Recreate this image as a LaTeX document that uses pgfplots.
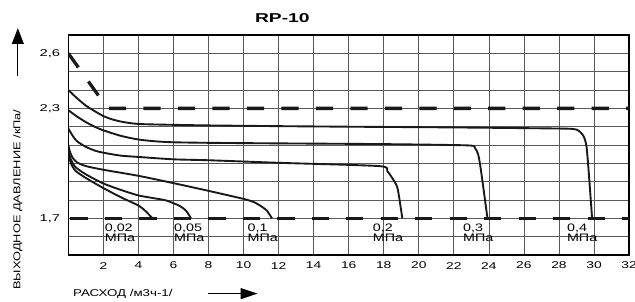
\documentclass[border=0pt]{standalone}
\usepackage{fontspec}
\setmainfont{Liberation Sans}
\usepackage{graphicx}
\usepackage{pgfplots}
\pgfplotsset{compat=1.18}
\usetikzlibrary{arrows.meta}
\newcommand{\sx}[2][1.4]{\scalebox{#1}[1]{#2}}
\begin{document}
\begin{tikzpicture}
\begin{axis}[
  scale only axis, width=566bp, height=222bp,
  xmin=0, xmax=32, ymin=1.5, ymax=2.7,
  xtick={0,2,4,6,8,10,12,14,16,18,20,22,24,26,28,30,32},
  xticklabels={,\sx{2},\sx{4},\sx{6},\sx{8},\sx{10},\sx{12},\sx{14},\sx{16},\sx{18},\sx{20},\sx{22},\sx{24},\sx{26},\sx{28},\sx{30},\makebox[0pt]{\sx{32}}},
  ytick={1.5,1.6,1.7,1.8,1.9,2.0,2.1,2.2,2.3,2.4,2.5,2.6,2.7},
  yticklabels={,,{\sx[1.5]{1,7}},,,,,,{\sx[1.5]{2,3}},,,{\sx[1.5]{2,6}},},
  grid=major,
  major grid style={draw=black!65, line width=0.7bp},
  axis line style={line width=1.7bp},
  tick style={draw=none},
  tick label style={font=\fontsize{10}{12}\selectfont},
  xticklabel style={anchor=center, yshift=-10.7bp},
  yticklabel style={anchor=east, inner sep=0pt, xshift=-8bp},
]
\coordinate (SW) at (rel axis cs:0,0);
% dashed limit lines
\addplot[line width=3.3bp, black!90, dash pattern=on 17.4bp off 17.4bp]
  coordinates {(0,2.6) (2.24,2.3) (32,2.3)};
\addplot[line width=3.3bp, black!90, dash pattern=on 17.4bp off 17.4bp, dash phase=32.7bp]
  coordinates {(0,1.7) (32,1.7)};
% 0.4 MPa
\addplot[line width=1.9bp, black!90, smooth, tension=0.4, line join=round] coordinates {
 (0,2.40) (0.5,2.355) (1,2.315) (1.5,2.285) (2,2.258) (2.5,2.24) (3,2.228) (3.5,2.22) (4,2.215)
 (5,2.212) (8,2.207) (12,2.203) (16,2.2) (22,2.196) (28,2.19) (28.85,2.187) (29.13,2.178)
 (29.41,2.147) (29.57,2.093) (29.7,1.95) (29.89,1.70)};
% 0.3 MPa
\addplot[line width=1.9bp, black!90, smooth, tension=0.4, line join=round] coordinates {
 (0,2.29) (0.5,2.255) (1,2.225) (1.5,2.2) (2,2.18) (3,2.15) (4,2.13) (5,2.12) (6,2.115)
 (8,2.112) (12,2.109) (18,2.105) (22.8,2.098) (23.2,2.084) (23.39,2.048) (23.54,1.967) (23.92,1.70)};
% 0.2 MPa
\addplot[line width=1.9bp, black!90, smooth, tension=0.4, line join=round] coordinates {
 (0,2.19) (0.25,2.15) (0.5,2.12) (1,2.09) (1.5,2.07) (2,2.058) (3,2.042) (4,2.035) (6,2.022)
 (8,2.017) (12,2.003) (17.74,1.985) (18.2,1.958) (18.59,1.904) (18.8,1.859) (19.06,1.70)};
% 0.1 MPa
\addplot[line width=1.9bp, black!90, smooth, tension=0.4, line join=round] coordinates {
 (0,2.1) (0.1,2.06) (0.25,2.03) (0.5,2.005) (1,1.985) (2,1.965) (4,1.932) (6,1.892) (8,1.85)
 (10,1.806) (10.6,1.788) (11.0,1.766) (11.34,1.741) (11.62,1.70)};
% 0.05 MPa
\addplot[line width=1.9bp, black!90, smooth, tension=0.4, line join=round] coordinates {
 (0,2.07) (0.15,2.02) (0.4,1.98) (1,1.94) (2,1.89) (3,1.855) (4,1.825) (5,1.808) (5.6,1.797)
 (6.35,1.768) (6.72,1.741) (7.0,1.70)};
% 0.02 MPa
\addplot[line width=1.9bp, black!90, smooth, tension=0.4, line join=round] coordinates {
 (0,2.05) (0.15,2.0) (0.4,1.96) (1,1.92) (2,1.865) (3,1.815) (4,1.77) (4.4,1.74) (4.8,1.70)};
% pressure labels
\tikzset{mpa/.style={anchor=north west, inner sep=0pt, align=left, font=\fontsize{11}{11}\selectfont}}
\node[mpa] at (axis cs:2.07,1.673) {\sx[1.32]{0,02}\\\sx[1.32]{МПа}};
\node[mpa] at (axis cs:6.03,1.673) {\sx[1.32]{0,05}\\\sx[1.32]{МПа}};
\node[mpa] at (axis cs:10.22,1.673) {\sx[1.32]{0,1}\\\sx[1.32]{МПа}};
\node[mpa] at (axis cs:17.37,1.673) {\sx[1.32]{0,2}\\\sx[1.32]{МПа}};
\node[mpa] at (axis cs:22.52,1.673) {\sx[1.32]{0,3}\\\sx[1.32]{МПа}};
\node[mpa] at (axis cs:28.45,1.673) {\sx[1.32]{0,4}\\\sx[1.32]{МПа}};
\end{axis}
\path ([shift={(-69bp,-45.4bp)}]SW) rectangle ([shift={(572bp,257.4bp)}]SW);
% title
\node[font=\bfseries\fontsize{13}{15}\selectfont] at ([shift={(216bp,239bp)}]SW) {\sx[1.5]{RP-10}};
% y label and arrow
\node[font=\fontsize{10}{12}\selectfont, rotate=90] at ([shift={(-51bp,56bp)}]SW) {\sx[1.3]{ВЫХОДНОЕ ДАВЛЕНИЕ /кПа/}};
\draw[line width=1.3bp, -{Triangle[length=16bp,width=12bp]}] ([shift={(-51bp,181bp)}]SW) -- ([shift={(-51bp,229bp)}]SW);
% x label and arrow
\node[font=\fontsize{10}{12}\selectfont] at ([shift={(55bp,-39bp)}]SW) {\sx[1.35]{РАСХОД /м3ч-1/}};
\draw[line width=1.3bp, -{Triangle[length=17bp,width=11bp]}] ([shift={(141bp,-39bp)}]SW) -- ([shift={(191bp,-39bp)}]SW);
\end{tikzpicture}
\end{document}
